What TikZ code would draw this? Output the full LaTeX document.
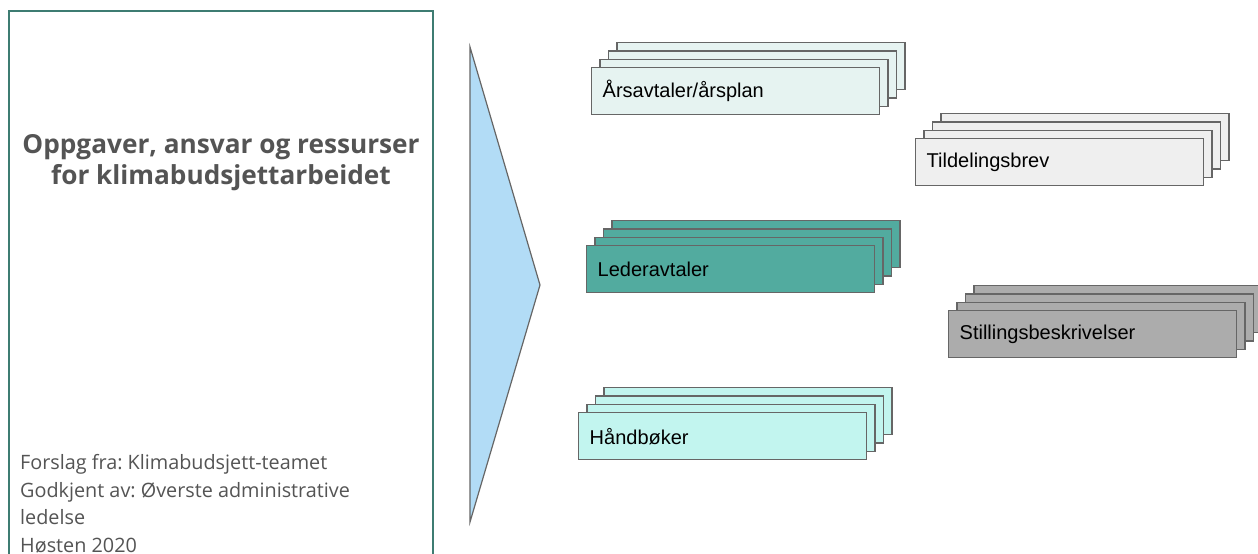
\documentclass[tikz,border=0pt]{standalone}
\usepackage{fontspec}
\setmainfont{Open Sans}
\newfontfamily\arialfont{Liberation Sans}
\frenchspacing
\definecolor{frame}{HTML}{3E7C72}
\definecolor{titlegray}{HTML}{545454}
\definecolor{tri}{HTML}{B2DCF6}
\definecolor{strk}{HTML}{666666}
\definecolor{fars}{HTML}{E6F3F1}
\definecolor{fled}{HTML}{52AB9F}
\definecolor{fhand}{HTML}{C2F5EF}
\definecolor{ftil}{HTML}{EFEFEF}
\definecolor{fsti}{HTML}{ACACAC}
\tikzset{
  x=1pt, y=-1pt,
  sheet/.style={draw=strk, line width=1.4pt, anchor=north west, minimum width=288pt, minimum height=47pt, inner sep=0pt},
  fronttext/.style={sheet, text width=266pt, inner xsep=11pt, align=left, font=\arialfont\fontsize{20}{23}\selectfont, text=black},
}
\newcommand{\docstack}[5]{%
  % #1 name, #2 x, #3 y, #4 fill, #5 text
  \node[sheet, fill=#4] (#1-3) at (#2+25.2,#3-25.2) {};
  \node[sheet, fill=#4] (#1-2) at (#2+16.8,#3-16.8) {};
  \node[sheet, fill=#4] (#1-1) at (#2+8.4,#3-8.4) {};
  \node[fronttext, fill=#4] (#1) at (#2,#3) {#5};
}
\begin{document}
\begin{tikzpicture}
\clip (0,0) rectangle (1258,554);
\fill[white] (0,0) rectangle (1258,554);
% left panel
\draw[frame, line width=2pt] (9,600) -- (9,11) -- (433,11) -- (433,600);
\node[font=\bfseries\fontsize{26.2}{31}\selectfont, text=titlegray, align=center, anchor=north, inner sep=0pt] (title) at (221,134) {Oppgaver, ansvar og ressurser\\for klimabudsjettarbeidet};
\node[font=\fontsize{19.8}{27.7}\selectfont, text=titlegray, align=left, anchor=north west, inner sep=0pt] (footer) at (20,454) {Forslag fra: Klimabudsjett-teamet\\Godkjent av: Øverste administrative\\ledelse\\Høsten 2020};
% triangle
\draw[fill=tri, draw=strk, line width=1.2pt] (470,47) -- (540,285) -- (470,522) -- cycle;
% stacks
\docstack{ars}{591}{67}{fars}{Årsavtaler/årsplan}
\docstack{led}{586}{245}{fled}{Lederavtaler}
\docstack{hand}{578}{412}{fhand}{Håndbøker}
\docstack{til}{915}{138}{ftil}{Tildelingsbrev}
\docstack{sti}{948}{310}{fsti}{Stillingsbeskrivelser}
\end{tikzpicture}
\end{document}
